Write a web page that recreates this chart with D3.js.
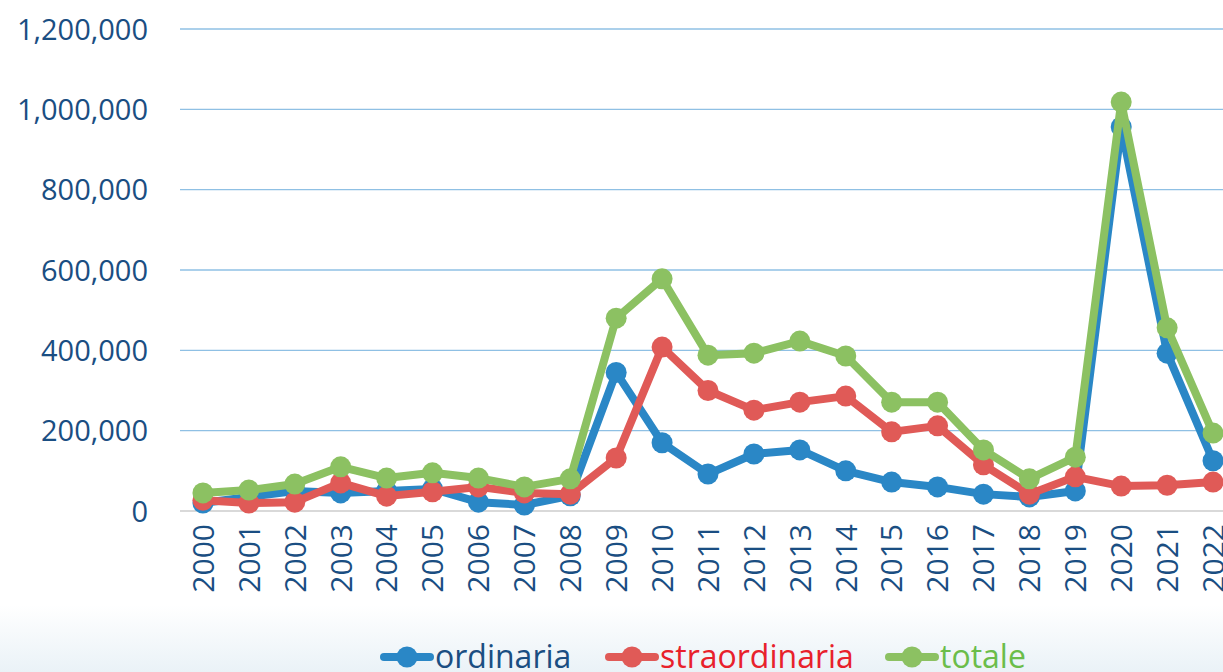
<html>
<head>
<script src="https://d3js.org/d3.v7.min.js"></script>
<style>
  body { margin: 0; background: #fff; }
  text { font-family: "Open Sans", sans-serif; }
</style>
</head>
<body>
<svg width="1223" height="672"></svg>
<script>
// years on the x axis
const years = ["2000","2001","2002","2003","2004","2005","2006","2007","2008","2009","2010",
  "2011","2012","2013","2014","2015","2016","2017","2018","2019","2020","2021","2022"];

// series values
const ordinaria = [20000, 35000, 50000, 45000, 50000, 55000, 22000, 15000, 38000, 345000, 170000,
  92000, 142000, 152000, 100000, 72000, 60000, 42000, 35000, 50000, 956000, 393000, 125000];
const straordinaria = [27000, 20000, 22000, 70000, 37000, 48000, 60000, 45000, 42000, 132000, 408000,
  300000, 251000, 271000, 286000, 197000, 212000, 115000, 42000, 85000, 62000, 64000, 72000];
const totale = [45000, 52000, 67000, 110000, 82000, 95000, 82000, 60000, 80000, 480000, 578000,
  388000, 393000, 423000, 386000, 271000, 271000, 152000, 80000, 134000, 1018000, 456000, 194000];

const yTicks = [0, 200000, 400000, 600000, 800000, 1000000, 1200000];

const seriesNames = ["ordinaria", "straordinaria", "totale"];
const lineColors = ["#2a87c6", "#e05a57", "#8cc162"];
const textColors = ["#1a4e82", "#e8212b", "#6bbd4a"];

const svg = d3.select("svg");

// background fade at the bottom
const defs = svg.append("defs");
const grad = defs.append("linearGradient").attr("id", "fade")
  .attr("x1", 0).attr("y1", 0).attr("x2", 0).attr("y2", 1);
grad.append("stop").attr("offset", "0%").attr("stop-color", "#ffffff");
grad.append("stop").attr("offset", "100%").attr("stop-color", "#eaf2f7");
svg.append("rect").attr("x", 0).attr("y", 605).attr("width", 1223).attr("height", 67)
  .attr("fill", "url(#fade)");

const x = d3.scaleBand().domain(years).range([180, 1236]);
const y = d3.scaleLinear().domain([0, 1200000]).range([511, 29]);

// grid lines
svg.append("g")
  .selectAll("line")
  .data(yTicks.filter(d => d > 0)).enter().append("line")
    .attr("x1", 180).attr("x2", 1223)
    .attr("y1", d => y(d)).attr("y2", d => y(d))
    .style("stroke", "#8fc0e4").style("stroke-width", 1.3);

// zero axis line
svg.append("line")
  .attr("x1", 180).attr("x2", 1223).attr("y1", y(0)).attr("y2", y(0))
  .style("stroke", "#d9d9d9").style("stroke-width", 2);

// Y axis labels
const yAxis = svg.append("g")
  .attr("transform", "translate(148,0)")
  .call(d3.axisLeft(y).tickValues(yTicks).tickFormat(d3.format(",")).tickSize(0).tickPadding(0));
yAxis.select(".domain").remove();
yAxis.selectAll("text")
  .style("font-size", "29px").style("fill", "#1a4e82").attr("dy", "0.35em");

// X axis labels
const xAxis = svg.append("g")
  .attr("transform", "translate(0," + y(0) + ")")
  .call(d3.axisBottom(x).tickSize(0));
xAxis.select(".domain").remove();
xAxis.selectAll("text")
  .style("font-size", "30px").style("fill", "#1a4e82")
  .attr("transform", "rotate(-90)")
  .attr("text-anchor", "end")
  .attr("x", -13).attr("y", 0).attr("dy", "0.36em");

// lines + markers
const allSeries = [ordinaria, straordinaria, totale];
const line = d3.line()
  .x((d, i) => x(years[i]) + x.bandwidth() / 2)
  .y(d => y(d));

allSeries.forEach((vals, k) => {
  const g = svg.append("g");
  g.append("path").datum(vals)
    .attr("d", line)
    .style("fill", "none")
    .style("stroke", lineColors[k])
    .style("stroke-width", 8)
    .style("stroke-linejoin", "round");
  g.selectAll("circle").data(vals).enter().append("circle")
    .attr("cx", (d, i) => x(years[i]) + x.bandwidth() / 2)
    .attr("cy", d => y(d))
    .attr("r", 10.5)
    .style("fill", lineColors[k]);
});

// legend
const legendX = [380, 605, 885];
const legend = svg.append("g");
seriesNames.forEach((name, k) => {
  const lg = legend.append("g").attr("transform", "translate(" + legendX[k] + ",657)");
  lg.append("line").attr("x1", 4).attr("x2", 50).attr("y1", 0).attr("y2", 0)
    .style("stroke", lineColors[k]).style("stroke-width", 8).style("stroke-linecap", "round");
  lg.append("circle").attr("cx", 27).attr("cy", 0).attr("r", 10.5).style("fill", lineColors[k]);
  lg.append("text").attr("x", 55).attr("y", 0).attr("dy", "0.34em")
    .style("font-size", "32px").style("fill", textColors[k])
    .text(name);
});
</script>
</body>
</html>
